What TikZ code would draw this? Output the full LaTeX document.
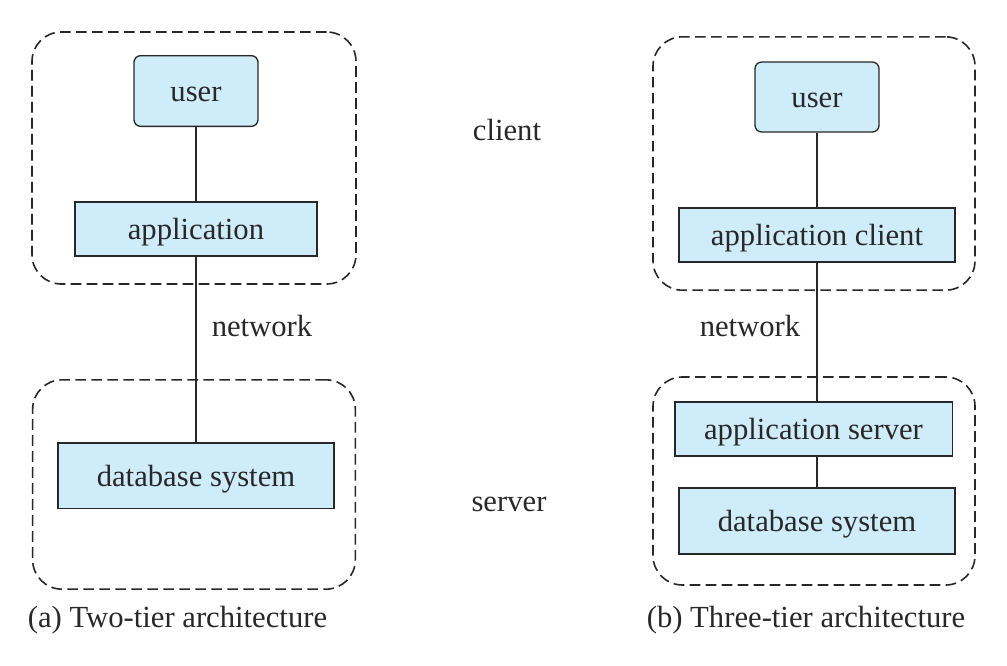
\documentclass[tikz,border=0pt]{standalone}
\usepackage{fontspec}
\setmainfont{Liberation Serif}
\definecolor{boxblue}{RGB}{206,236,250}
\definecolor{inkgray}{RGB}{40,40,40}
\tikzstyle{tier} = [rectangle, rounded corners=22pt, dash pattern=on 8pt off 4pt, draw=inkgray, line width=1.2pt, inner sep=0pt]
\tikzstyle{userbox} = [rectangle, rounded corners=5pt, minimum width=93pt, minimum height=53pt, text centered, text height=16pt, text depth=0pt, draw=inkgray, line width=1pt, fill=boxblue]
\tikzstyle{process} = [rectangle, minimum height=40.5pt, text centered, text height=16pt, text depth=0pt, draw=inkgray, line width=1pt, fill=boxblue]
\tikzstyle{label} = [text=inkgray, text height=16pt, text depth=0pt]
\tikzstyle{link} = [draw=inkgray, line width=1pt]

\begin{document}
\begin{tikzpicture}[x=0.75pt, y=-0.75pt, font=\fontsize{23}{27}\selectfont, text=inkgray]
    \useasboundingbox (0,0) rectangle (1007,665);

    % Two-tier
    \node (clientA) [tier, minimum width=243pt, minimum height=189pt] at (194,158) {};
    \node (serverA) [tier, minimum width=242pt, minimum height=157pt] at (194,484.5) {};
    \node (userA) [userbox] at (196,91) {user};
    \node (appA) [process, minimum width=181.5pt] at (196,229) {application};
    \node (dbA) [process, minimum width=207pt, minimum height=49pt] at (196,475.5) {database system};

    % Three-tier
    \node (clientB) [tier, minimum width=241.5pt, minimum height=190pt] at (814,163.5) {};
    \node (serverB) [tier, minimum width=241.5pt, minimum height=156pt] at (814,481) {};
    \node (userB) [userbox, minimum height=52.5pt] at (817,97) {user};
    \node (appclient) [process, minimum width=207pt] at (817,235) {application client};
    \node (appserver) [process, minimum width=208pt] at (813.5,429) {application server};
    \node (dbB) [process, minimum width=207pt, minimum height=49.5pt] at (817,521) {database system};

    % Labels
    \node (client) [label] at (507,130) {client};
    \node (server) [label] at (509,501) {server};
    \node (netA) [label] at (262,326) {network};
    \node (netB) [label] at (750,326) {network};
    \node (capA) [label] at (177.5,617) {(a) Two-tier architecture};
    \node (capB) [label] at (806,617) {(b) Three-tier architecture};

    % Lines
    \draw [link] (userA) -- (appA);
    \draw [link] (appA) -- (dbA);
    \draw [link] (userB) -- (appclient);
    \draw [link] (appclient.south) -- (appclient.south |- appserver.north);
    \draw [link] (dbB.north |- appserver.south) -- (dbB.north);

\end{tikzpicture}
\end{document}
